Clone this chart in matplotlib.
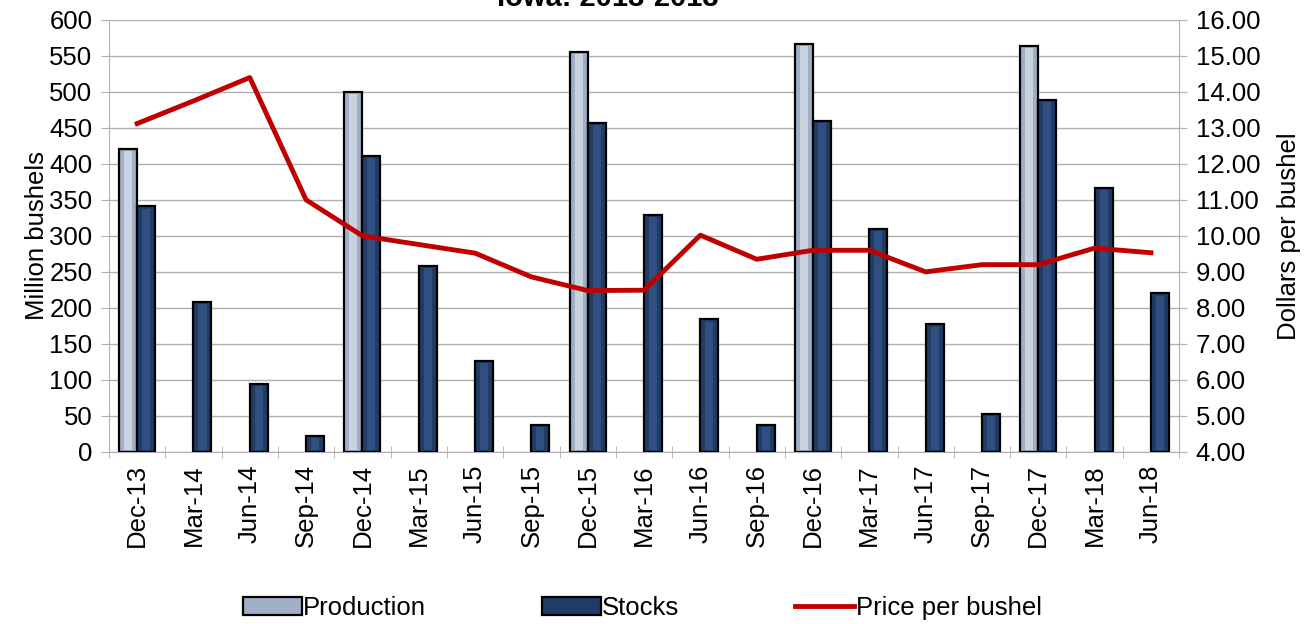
import matplotlib.pyplot as plt
import matplotlib.patches as mpatches
import matplotlib.lines as mlines
import numpy as np

plt.rcParams['font.family'] = ['Liberation Sans', 'DejaVu Sans']

# data
quarters = ['Dec-13', 'Mar-14', 'Jun-14', 'Sep-14', 'Dec-14', 'Mar-15', 'Jun-15',
            'Sep-15', 'Dec-15', 'Mar-16', 'Jun-16', 'Sep-16', 'Dec-16', 'Mar-17',
            'Jun-17', 'Sep-17', 'Dec-17', 'Mar-18', 'Jun-18']
production = [421, 0, 0, 0, 500, 0, 0, 0, 556, 0, 0, 0, 567, 0, 0, 0, 564, 0, 0]
stocks = [341, 208, 94, 22, 411, 258, 126, 37, 457, 329, 184, 37, 460, 310, 177, 53,
          489, 367, 220]
price = [13.12, 13.75, 14.40, 11.00, 10.00, 9.76, 9.52, 8.86, 8.48, 8.49, 10.02, 9.35,
         9.60, 9.60, 9.00, 9.20, 9.20, 9.66, 9.53]

PROD_FACE = '#9EAFC6'
PROD_INNER = '#C9D3E0'
STOCK_FACE = '#1F3B66'
STOCK_INNER = '#2E4F80'
LINE_RED = '#C00000'
GRID = '#B0B0B0'
FS = 18.5

x = np.arange(len(quarters))
prod = np.array(production, dtype=float)
prod_masked = np.where(prod > 0, prod, np.nan)
w = 0.32

fig, ax = plt.subplots(figsize=(13.16, 6.24), dpi=100)
fig.subplots_adjust(left=0.0828, right=0.896, top=0.968, bottom=0.276)

# bars with a little bevel look
ax.bar(x - w / 2, prod_masked, width=w, color=PROD_FACE, edgecolor='black',
       linewidth=1.6, zorder=3)
ax.bar(x - w / 2, prod_masked - 6, bottom=3, width=w * 0.45, color=PROD_INNER,
       linewidth=0, zorder=4)
ax.bar(x + w / 2, stocks, width=w, color=STOCK_FACE, edgecolor='black',
       linewidth=1.6, zorder=3)
ax.bar(x + w / 2, np.array(stocks) - 6, bottom=3, width=w * 0.45, color=STOCK_INNER,
       linewidth=0, zorder=4)

ax.set_xlim(-0.5, len(quarters) - 0.5)
ax.set_ylim(0, 600)
ax.set_yticks(np.arange(0, 601, 50))
ax.yaxis.grid(True, color=GRID, linewidth=1.0, zorder=0)
ax.set_axisbelow(True)
ax.set_xticks(x)
ax.set_xticklabels(quarters, rotation=90, fontsize=FS)
ax.set_xticks(np.arange(-0.5, len(quarters), 1), minor=True)
ax.tick_params(axis='x', which='major', length=0, pad=9)
ax.tick_params(axis='x', which='minor', length=8, color=GRID, direction='inout')
ax.tick_params(axis='y', labelsize=FS, length=6, color=GRID, pad=6)
ax.set_ylabel('Million bushels', fontsize=FS, labelpad=0)
for side in ['top', 'right']:
    ax.spines[side].set_visible(False)
for side in ['left', 'bottom']:
    ax.spines[side].set_color(GRID)

ax2 = ax.twinx()
ax2.plot(x, price, color=LINE_RED, linewidth=3.5, zorder=5)
ax2.set_ylim(4, 16)
ax2.set_yticks(np.arange(4, 16.01, 1))
ax2.set_yticklabels(['%.2f' % v for v in np.arange(4, 16.01, 1)])
ax2.tick_params(axis='y', labelsize=FS, length=6, color=GRID, pad=6)
ax2.set_ylabel('Dollars per bushel', fontsize=FS, labelpad=12)
for side in ['top', 'left', 'bottom']:
    ax2.spines[side].set_visible(False)
ax2.spines['right'].set_color(GRID)

fig.text(0.462, 1 - 6 / 624, 'Iowa: 2013-2018', fontsize=21, fontweight='bold',
         ha='center', va='baseline')

handles = [
    mpatches.Patch(facecolor=PROD_FACE, edgecolor='black', linewidth=1.6),
    mpatches.Patch(facecolor=STOCK_FACE, edgecolor='black', linewidth=1.6),
    mlines.Line2D([], [], color=LINE_RED, linewidth=3.5),
]
fig.legend(handles, ['Production', 'Stocks', 'Price per bushel'], loc='center',
           bbox_to_anchor=(0.488, 0.026), ncol=3, frameon=False, fontsize=FS,
           columnspacing=4.5, handlelength=2.3, handletextpad=0.05)

fig.savefig('out.png', dpi=100)
